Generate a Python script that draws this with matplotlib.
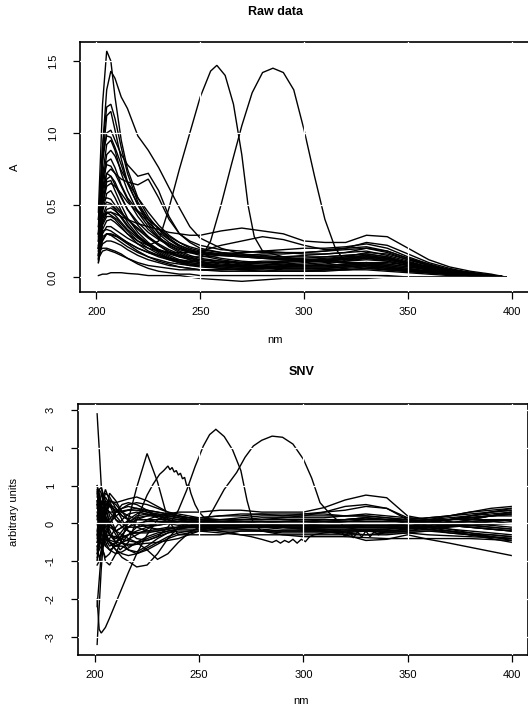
import numpy as np
import matplotlib.pyplot as plt

## UV spectra: raw absorbance and SNV transformed ##############################

rawWl = [201, 203, 205, 207, 209, 212, 215, 220, 225, 230, 235, 240, 245, 250,
         260, 270, 280, 290, 300, 310, 320, 330, 340, 350, 360, 370, 380, 390, 397]

rawSpectra = [
    [0.45, 1.2, 1.57, 1.50, 1.25, 0.95, 0.75, 0.55, 0.42, 0.33, 0.26, 0.21, 0.18, 0.16, 0.13, 0.11, 0.10, 0.09, 0.08, 0.08, 0.09, 0.10, 0.09, 0.07, 0.05, 0.03, 0.02, 0.01, 0.0],
    [0.35, 0.9, 1.3, 1.43, 1.38, 1.25, 1.17, 0.98, 0.88, 0.76, 0.62, 0.48, 0.35, 0.27, 0.2, 0.16, 0.14, 0.13, 0.12, 0.12, 0.13, 0.14, 0.12, 0.09, 0.06, 0.04, 0.02, 0.01, 0.0],
    [0.3, 0.9, 1.18, 1.2, 1.1, 0.9, 0.72, 0.52, 0.4, 0.3, 0.24, 0.2, 0.17, 0.15, 0.12, 0.10, 0.09, 0.08, 0.08, 0.08, 0.09, 0.1, 0.08, 0.06, 0.04, 0.03, 0.02, 0.01, 0.0],
    [0.25, 0.8, 1.12, 1.15, 1.02, 0.82, 0.66, 0.5, 0.37, 0.28, 0.22, 0.18, 0.15, 0.13, 0.11, 0.09, 0.08, 0.07, 0.07, 0.07, 0.08, 0.09, 0.07, 0.05, 0.04, 0.03, 0.02, 0.01, 0.0],
    [0.3, 0.8, 1.0, 1.02, 0.95, 0.85, 0.78, 0.7, 0.72, 0.6, 0.42, 0.3, 0.24, 0.2, 0.17, 0.15, 0.13, 0.12, 0.11, 0.11, 0.12, 0.13, 0.11, 0.08, 0.05, 0.03, 0.02, 0.01, 0.0],
    [0.2, 0.7, 0.92, 0.95, 0.88, 0.72, 0.6, 0.45, 0.35, 0.27, 0.21, 0.17, 0.14, 0.12, 0.1, 0.08, 0.07, 0.06, 0.06, 0.06, 0.07, 0.08, 0.07, 0.05, 0.04, 0.02, 0.01, 0.01, 0.0],
    [0.25, 0.65, 0.85, 0.88, 0.84, 0.74, 0.66, 0.55, 0.45, 0.36, 0.29, 0.24, 0.2, 0.18, 0.16, 0.15, 0.14, 0.14, 0.15, 0.16, 0.17, 0.18, 0.15, 0.11, 0.07, 0.04, 0.02, 0.01, 0.0],
    [0.18, 0.6, 0.8, 0.82, 0.76, 0.64, 0.55, 0.46, 0.4, 0.34, 0.27, 0.22, 0.19, 0.17, 0.15, 0.14, 0.13, 0.12, 0.12, 0.13, 0.14, 0.15, 0.13, 0.1, 0.07, 0.04, 0.02, 0.01, 0.0],
    [0.2, 0.55, 0.72, 0.75, 0.72, 0.68, 0.66, 0.64, 0.68, 0.55, 0.4, 0.3, 0.25, 0.22, 0.19, 0.18, 0.17, 0.17, 0.17, 0.18, 0.2, 0.21, 0.18, 0.13, 0.08, 0.05, 0.03, 0.01, 0.0],
    [0.15, 0.5, 0.68, 0.7, 0.66, 0.56, 0.47, 0.36, 0.28, 0.22, 0.17, 0.14, 0.12, 0.1, 0.08, 0.07, 0.06, 0.06, 0.06, 0.06, 0.07, 0.08, 0.06, 0.05, 0.03, 0.02, 0.01, 0.01, 0.0],
    [0.2, 0.5, 0.63, 0.65, 0.63, 0.58, 0.52, 0.45, 0.38, 0.31, 0.26, 0.22, 0.19, 0.17, 0.15, 0.14, 0.13, 0.13, 0.13, 0.14, 0.15, 0.16, 0.14, 0.1, 0.06, 0.04, 0.02, 0.01, 0.0],
    [0.12, 0.45, 0.58, 0.6, 0.55, 0.46, 0.38, 0.29, 0.23, 0.18, 0.14, 0.11, 0.09, 0.08, 0.06, 0.05, 0.05, 0.04, 0.04, 0.05, 0.05, 0.06, 0.05, 0.04, 0.03, 0.02, 0.01, 0.0, 0.0],
    [0.3, 0.48, 0.52, 0.51, 0.48, 0.44, 0.4, 0.34, 0.28, 0.23, 0.19, 0.16, 0.13, 0.11, 0.09, 0.08, 0.07, 0.07, 0.07, 0.07, 0.08, 0.09, 0.08, 0.06, 0.04, 0.03, 0.02, 0.01, 0.0],
    [0.15, 0.4, 0.47, 0.48, 0.46, 0.42, 0.36, 0.28, 0.22, 0.17, 0.13, 0.1, 0.08, 0.07, 0.06, 0.05, 0.04, 0.04, 0.04, 0.04, 0.05, 0.05, 0.04, 0.03, 0.02, 0.01, 0.01, 0.0, 0.0],
    [0.2, 0.38, 0.44, 0.45, 0.44, 0.42, 0.4, 0.37, 0.35, 0.33, 0.31, 0.3, 0.29, 0.29, 0.32, 0.34, 0.32, 0.3, 0.25, 0.24, 0.24, 0.29, 0.28, 0.2, 0.12, 0.07, 0.04, 0.02, 0.0],
    [0.12, 0.33, 0.39, 0.4, 0.38, 0.34, 0.3, 0.25, 0.2, 0.16, 0.13, 0.11, 0.1, 0.09, 0.08, 0.08, 0.08, 0.09, 0.1, 0.11, 0.13, 0.15, 0.13, 0.09, 0.06, 0.04, 0.02, 0.01, 0.0],
    [0.1, 0.3, 0.35, 0.35, 0.33, 0.3, 0.27, 0.23, 0.2, 0.18, 0.17, 0.17, 0.17, 0.18, 0.22, 0.25, 0.28, 0.26, 0.22, 0.19, 0.2, 0.24, 0.22, 0.16, 0.1, 0.06, 0.03, 0.01, 0.0],
    [0.1, 0.26, 0.3, 0.3, 0.29, 0.26, 0.23, 0.18, 0.14, 0.11, 0.09, 0.07, 0.06, 0.05, 0.04, 0.04, 0.04, 0.04, 0.04, 0.05, 0.05, 0.06, 0.05, 0.04, 0.03, 0.02, 0.01, 0.0, 0.0],
    [0.15, 0.23, 0.25, 0.25, 0.24, 0.22, 0.19, 0.15, 0.12, 0.1, 0.08, 0.07, 0.06, 0.05, 0.05, 0.05, 0.06, 0.07, 0.08, 0.09, 0.11, 0.13, 0.12, 0.09, 0.06, 0.04, 0.02, 0.01, 0.0],
    [0.18, 0.2, 0.2, 0.19, 0.18, 0.16, 0.13, 0.09, 0.06, 0.04, 0.03, 0.02, 0.02, 0.01, 0.01, 0.01, 0.01, 0.01, 0.01, 0.01, 0.01, 0.01, 0.01, 0.0, 0.0, 0.0, 0.0, 0.0, 0.0],
    [0.01, 0.02, 0.02, 0.03, 0.03, 0.03, 0.025, 0.02, 0.01, 0.01, 0.01, 0.01, 0.0, -0.01, -0.02, -0.03, -0.02, -0.01, -0.01, -0.01, -0.01, -0.01, 0.0, 0.0, 0.0, 0.0, 0.0, 0.0, 0.0],
    [0.3, 0.42, 0.45, 0.45, 0.43, 0.38, 0.33, 0.27, 0.22, 0.19, 0.17, 0.15, 0.14, 0.14, 0.15, 0.17, 0.18, 0.17, 0.16, 0.16, 0.17, 0.2, 0.18, 0.13, 0.09, 0.05, 0.03, 0.01, 0.0],
    [0.4, 0.85, 0.98, 0.97, 0.9, 0.78, 0.65, 0.5, 0.4, 0.34, 0.28, 0.24, 0.21, 0.19, 0.17, 0.16, 0.15, 0.14, 0.14, 0.14, 0.15, 0.16, 0.14, 0.1, 0.07, 0.04, 0.02, 0.01, 0.0],
    [0.35, 0.52, 0.55, 0.54, 0.5, 0.45, 0.4, 0.33, 0.27, 0.22, 0.18, 0.15, 0.12, 0.1, 0.08, 0.07, 0.06, 0.06, 0.06, 0.06, 0.07, 0.08, 0.07, 0.05, 0.04, 0.02, 0.01, 0.01, 0.0],
    [0.25, 0.32, 0.33, 0.32, 0.3, 0.27, 0.24, 0.2, 0.17, 0.15, 0.13, 0.12, 0.11, 0.1, 0.1, 0.1, 0.11, 0.11, 0.12, 0.12, 0.14, 0.17, 0.16, 0.12, 0.08, 0.05, 0.03, 0.01, 0.0],
    [0.13, 0.18, 0.19, 0.18, 0.17, 0.15, 0.13, 0.1, 0.08, 0.07, 0.06, 0.05, 0.05, 0.05, 0.05, 0.06, 0.07, 0.08, 0.09, 0.1, 0.11, 0.12, 0.11, 0.08, 0.05, 0.03, 0.02, 0.01, 0.0],
    [0.28, 0.6, 0.72, 0.7, 0.64, 0.55, 0.47, 0.38, 0.31, 0.26, 0.22, 0.19, 0.17, 0.16, 0.15, 0.15, 0.16, 0.16, 0.17, 0.18, 0.19, 0.2, 0.17, 0.12, 0.08, 0.05, 0.03, 0.01, 0.0],
    [0.22, 0.42, 0.5, 0.5, 0.47, 0.41, 0.35, 0.28, 0.23, 0.19, 0.16, 0.14, 0.13, 0.12, 0.11, 0.1, 0.1, 0.1, 0.11, 0.12, 0.13, 0.14, 0.13, 0.1, 0.06, 0.04, 0.02, 0.01, 0.0],
    [0.16, 0.36, 0.42, 0.42, 0.4, 0.35, 0.3, 0.23, 0.18, 0.15, 0.12, 0.1, 0.09, 0.08, 0.07, 0.07, 0.07, 0.07, 0.08, 0.08, 0.09, 0.1, 0.09, 0.07, 0.05, 0.03, 0.02, 0.01, 0.0],
    [0.4, 0.7, 0.78, 0.77, 0.72, 0.63, 0.54, 0.42, 0.33, 0.27, 0.23, 0.2, 0.18, 0.17, 0.16, 0.17, 0.18, 0.19, 0.2, 0.2, 0.21, 0.23, 0.2, 0.14, 0.09, 0.05, 0.03, 0.01, 0.0],
    [0.2, 0.28, 0.3, 0.29, 0.27, 0.24, 0.21, 0.17, 0.14, 0.12, 0.1, 0.09, 0.08, 0.08, 0.08, 0.09, 0.1, 0.11, 0.11, 0.12, 0.12, 0.14, 0.13, 0.1, 0.07, 0.04, 0.02, 0.01, 0.0],
    [0.14, 0.5, 0.66, 0.67, 0.6, 0.5, 0.41, 0.31, 0.24, 0.19, 0.15, 0.12, 0.1, 0.09, 0.07, 0.06, 0.06, 0.05, 0.05, 0.05, 0.06, 0.07, 0.06, 0.04, 0.03, 0.02, 0.01, 0.0, 0.0],
]

# the two samples with big peaks at 258 and 285 nm
peak258Wl = [201, 205, 210, 215, 220, 225, 230, 235, 240, 245, 250, 255, 258,
             262, 266, 270, 273, 276, 280, 290, 300, 320, 340, 360, 380, 397]
peak258A = [0.3, 0.45, 0.4, 0.32, 0.25, 0.22, 0.25, 0.48, 0.75, 1.0, 1.25, 1.43, 1.47,
            1.4, 1.2, 0.85, 0.5, 0.28, 0.18, 0.14, 0.12, 0.1, 0.1, 0.06, 0.02, 0.0]
peak285Wl = [201, 205, 210, 220, 230, 240, 250, 255, 260, 265, 270, 275, 280,
             285, 290, 295, 300, 305, 310, 315, 320, 330, 340, 360, 380, 397]
peak285A = [0.2, 0.3, 0.28, 0.2, 0.14, 0.1, 0.12, 0.25, 0.5, 0.78, 1.05, 1.28, 1.42,
            1.45, 1.42, 1.3, 1.02, 0.7, 0.4, 0.2, 0.1, 0.07, 0.05, 0.03, 0.01, 0.0]

snvWl = [201, 202, 203, 205, 207, 210, 213, 216, 220, 225, 230, 235, 240, 245, 250,
         260, 270, 280, 290, 300, 310, 320, 330, 340, 350, 360, 370, 380, 390, 400]

snvSpectra = [
    [2.9, 2.0, 1.0, 0.2, -0.3, -0.5, -0.4, -0.3, -0.2, -0.1, -0.05, 0.0, 0.05, 0.05, 0.0, 0.0, -0.05, -0.05, -0.1, -0.1, -0.1, -0.1, -0.1, -0.1, -0.1, -0.05, 0.0, 0.05, 0.1, 0.1],
    [-3.2, -2.2, -1.2, 0.2, 0.6, 0.5, 0.3, 0.2, 0.1, 0.1, 0.05, 0.05, 0.0, 0.0, -0.05, -0.1, -0.1, -0.1, -0.1, -0.1, -0.1, -0.1, -0.1, -0.1, -0.1, 0.0, 0.1, 0.2, 0.3, 0.4],
    [-2.0, -2.8, -2.9, -2.75, -2.5, -2.1, -1.7, -1.3, -0.8, -0.3, 0.1, 0.2, 0.15, 0.1, 0.05, 0.0, 0.0, -0.05, -0.05, -0.05, -0.05, -0.05, -0.05, -0.05, 0.0, 0.05, 0.1, 0.15, 0.2, 0.25],
    [0.5, 0.0, -0.5, -1.0, -1.1, -0.8, -0.4, 0.1, 0.95, 1.85, 1.1, 0.1, -0.3, -0.3, -0.3, -0.3, -0.2, -0.2, -0.2, -0.2, -0.2, -0.2, -0.2, -0.2, -0.2, -0.2, -0.25, -0.3, -0.3, -0.35],
    [0.8, 0.5, 0.2, -0.3, -0.5, -0.6, -0.5, -0.3, -0.1, 0.1, 0.2, 0.25, 0.3, 0.3, 0.3, 0.35, 0.35, 0.3, 0.3, 0.3, 0.42, 0.62, 0.75, 0.68, 0.2, 0.1, 0.1, 0.15, 0.2, 0.2],
    [-0.4, 0.0, 0.4, 0.8, 0.7, 0.4, 0.2, 0.1, 0.0, -0.05, -0.05, 0.0, 0.05, 0.1, 0.15, 0.2, 0.25, 0.25, 0.2, 0.2, 0.3, 0.45, 0.5, 0.4, 0.1, 0.0, -0.05, -0.1, -0.15, -0.2],
    [1.0, 0.8, 0.5, 0.2, 0.0, -0.2, -0.1, 0.0, 0.1, 0.1, 0.1, 0.1, 0.05, 0.05, 0.0, 0.0, 0.0, -0.05, -0.1, -0.15, -0.2, -0.3, -0.45, -0.42, -0.3, -0.42, -0.52, -0.63, -0.74, -0.85],
    [0.5, 0.3, 0.0, -0.3, -0.5, -0.7, -0.9, -1.0, -1.15, -1.1, -0.8, -0.4, -0.1, 0.0, 0.05, 0.05, 0.05, 0.0, 0.0, 0.0, 0.0, 0.0, 0.0, 0.0, 0.0, 0.05, 0.1, 0.15, 0.2, 0.25],
    [-0.3, 0.3, 0.8, 0.5, 0.0, -0.2, -0.3, -0.4, -0.5, -0.7, -0.95, -0.8, -0.5, -0.25, -0.1, -0.05, 0.0, 0.0, 0.05, 0.05, 0.05, 0.0, -0.05, -0.05, 0.0, 0.0, -0.05, -0.1, -0.15, -0.2],
    [0.9, 0.6, 0.3, -0.2, -0.5, -0.7, -0.8, -0.85, -0.8, -0.65, -0.5, -0.35, -0.25, -0.2, -0.15, -0.1, -0.1, -0.1, -0.1, -0.1, -0.1, -0.05, -0.05, -0.05, 0.0, 0.1, 0.2, 0.3, 0.4, 0.45],
    [-1.0, -0.5, 0.0, 0.5, 0.6, 0.55, 0.6, 0.65, 0.7, 0.6, 0.45, 0.3, 0.2, 0.1, 0.05, 0.0, -0.05, -0.1, -0.1, -0.15, -0.15, -0.15, -0.15, -0.15, -0.1, -0.05, 0.0, 0.1, 0.2, 0.3],
    [0.5, 0.9, 0.95, 0.6, 0.2, -0.2, -0.5, -0.7, -0.75, -0.6, -0.4, -0.25, -0.15, -0.1, -0.05, 0.0, 0.0, 0.0, 0.05, 0.05, 0.05, 0.05, 0.05, 0.05, 0.05, 0.05, 0.1, 0.15, 0.2, 0.25],
    [-0.5, -0.2, 0.2, 0.6, 0.5, 0.3, 0.4, 0.5, 0.55, 0.5, 0.4, 0.3, 0.25, 0.2, 0.15, 0.1, 0.1, 0.1, 0.1, 0.1, 0.1, 0.1, 0.1, 0.1, 0.05, -0.05, -0.15, -0.25, -0.35, -0.45],
    [-1.1, -1.0, -0.7, -0.3, 0.0, 0.2, 0.3, 0.35, 0.35, 0.3, 0.25, 0.2, 0.2, 0.15, 0.1, 0.05, 0.0, -0.05, -0.05, -0.05, -0.05, -0.05, -0.05, -0.05, -0.05, -0.1, -0.2, -0.3, -0.4, -0.5],
    [0.2, 0.4, 0.6, 0.4, 0.0, -0.3, -0.5, -0.6, -0.55, -0.4, -0.3, -0.2, -0.15, -0.15, -0.15, -0.2, -0.2, -0.2, -0.25, -0.25, -0.25, -0.25, -0.2, -0.2, -0.2, -0.15, -0.1, -0.05, 0.0, 0.05],
    [1.0, 0.7, 0.4, 0.0, -0.3, -0.4, -0.2, 0.0, 0.2, 0.25, 0.2, 0.15, 0.1, 0.05, 0.0, -0.05, -0.05, 0.0, 0.0, 0.0, 0.05, 0.1, 0.15, 0.1, 0.0, 0.05, 0.1, 0.2, 0.3, 0.35],
    [-0.3, -0.5, -0.3, 0.3, 0.5, 0.4, 0.1, -0.2, -0.4, -0.45, -0.35, -0.25, -0.2, -0.2, -0.2, -0.25, -0.3, -0.3, -0.3, -0.3, -0.3, -0.3, -0.3, -0.3, -0.25, -0.2, -0.2, -0.25, -0.3, -0.35],
    [0.7, 0.9, 0.8, 0.4, 0.3, 0.3, 0.4, 0.45, 0.4, 0.35, 0.3, 0.25, 0.2, 0.15, 0.15, 0.2, 0.2, 0.25, 0.25, 0.25, 0.25, 0.2, 0.2, 0.15, 0.1, 0.05, 0.0, -0.05, -0.1, -0.15],
    [-0.8, -0.3, 0.5, 0.9, 0.6, 0.2, 0.0, -0.1, -0.1, -0.05, 0.0, 0.0, 0.0, 0.0, -0.05, -0.1, -0.1, -0.1, -0.15, -0.15, -0.15, -0.15, -0.15, -0.15, -0.1, -0.1, -0.05, 0.0, 0.05, 0.1],
    [0.3, 0.1, -0.2, -0.6, -0.7, -0.6, -0.6, -0.7, -0.8, -0.7, -0.55, -0.4, -0.3, -0.25, -0.2, -0.15, -0.1, -0.05, 0.0, 0.0, 0.0, 0.05, 0.1, 0.1, 0.1, 0.15, 0.2, 0.3, 0.35, 0.4],
    [-0.2, 0.2, 0.5, 0.7, 0.5, 0.1, -0.1, -0.2, -0.25, -0.25, -0.2, -0.15, -0.1, -0.05, 0.0, 0.05, 0.1, 0.15, 0.15, 0.2, 0.2, 0.2, 0.25, 0.2, 0.15, 0.1, 0.05, 0.0, -0.05, -0.1],
    [0.6, 0.3, 0.0, -0.4, -0.6, -0.5, -0.3, -0.1, 0.1, 0.2, 0.25, 0.2, 0.15, 0.1, 0.05, 0.0, 0.0, 0.0, -0.05, -0.05, -0.1, -0.1, -0.1, -0.1, -0.1, -0.15, -0.2, -0.3, -0.35, -0.4],
    [-0.6, -0.9, -0.8, -0.4, 0.0, 0.3, 0.5, 0.55, 0.5, 0.35, 0.2, 0.1, 0.05, 0.05, 0.05, 0.1, 0.15, 0.2, 0.2, 0.25, 0.3, 0.35, 0.45, 0.4, 0.15, 0.1, 0.1, 0.1, 0.1, 0.1],
    [0.0, -0.3, -0.6, -0.9, -0.8, -0.5, -0.3, -0.1, 0.0, 0.05, 0.05, 0.0, -0.05, -0.1, -0.1, -0.15, -0.15, -0.2, -0.2, -0.2, -0.2, -0.25, -0.3, -0.25, -0.2, -0.1, 0.0, 0.1, 0.2, 0.3],
    [-2.2, -1.5, -0.8, 0.2, 0.8, 0.6, 0.3, 0.1, -0.1, -0.2, -0.2, -0.15, -0.1, -0.1, -0.1, -0.1, -0.1, -0.05, -0.05, -0.05, 0.0, 0.0, 0.0, 0.0, 0.0, 0.0, -0.05, -0.1, -0.15, -0.2],
    [0.4, 0.6, 0.3, -0.1, -0.3, -0.4, -0.35, -0.3, -0.25, -0.2, -0.15, -0.1, -0.1, -0.1, -0.1, -0.1, -0.15, -0.15, -0.2, -0.2, -0.2, -0.2, -0.2, -0.2, -0.15, -0.1, -0.05, 0.0, 0.05, 0.1],
    [-0.7, -0.4, 0.0, 0.4, 0.3, 0.1, 0.0, 0.05, 0.15, 0.2, 0.2, 0.15, 0.1, 0.1, 0.1, 0.05, 0.05, 0.05, 0.05, 0.05, 0.1, 0.1, 0.15, 0.1, 0.05, 0.1, 0.15, 0.2, 0.25, 0.3],
    [0.2, -0.1, -0.4, -0.6, -0.4, -0.1, 0.1, 0.25, 0.3, 0.25, 0.15, 0.05, 0.0, -0.05, -0.05, -0.05, -0.05, -0.05, -0.1, -0.1, -0.1, -0.1, -0.05, -0.05, -0.05, -0.1, -0.15, -0.2, -0.25, -0.3],
    [0.85, 0.4, 0.0, -0.5, -0.7, -0.8, -0.75, -0.65, -0.5, -0.35, -0.25, -0.2, -0.15, -0.1, -0.05, 0.0, 0.05, 0.05, 0.05, 0.1, 0.1, 0.1, 0.15, 0.1, 0.1, 0.15, 0.2, 0.25, 0.3, 0.35],
    [-0.9, -0.6, -0.2, 0.3, 0.45, 0.35, 0.2, 0.1, 0.0, -0.1, -0.15, -0.15, -0.1, -0.1, -0.05, -0.05, -0.05, -0.05, -0.05, -0.05, -0.05, -0.05, -0.1, -0.1, -0.1, -0.15, -0.25, -0.3, -0.35, -0.4],
    [0.1, 0.3, 0.5, 0.2, -0.1, -0.2, -0.1, 0.1, 0.25, 0.35, 0.3, 0.25, 0.2, 0.15, 0.1, 0.1, 0.1, 0.1, 0.15, 0.15, 0.15, 0.2, 0.2, 0.15, 0.1, 0.05, 0.0, -0.05, -0.1, -0.15],
]

# SNV curves read on their own wavelength points (sharp or noisy parts)
snvJaggedWl = [201, 203, 205, 208, 212, 216, 220, 225, 228, 231, 233, 235, 236, 237, 238, 239, 240,
               241, 242, 243, 244, 245, 246, 248, 250, 255, 260, 280, 300, 320, 340, 360, 380, 400]
snvJagged = [-1.0, -0.2, 0.1, -0.3, -0.7, -0.5, 0.1, 0.75, 1.05, 1.3, 1.4, 1.52, 1.42, 1.48, 1.36, 1.4, 1.28,
             1.33, 1.18, 1.22, 1.0, 1.02, 0.8, 0.5, 0.3, 0.0, -0.1, -0.1, -0.1, -0.1, -0.1, 0.0, 0.05, 0.1]
snvPeak258Wl = [201, 205, 210, 215, 220, 225, 230, 235, 240, 244, 248, 252, 255, 258,
                262, 266, 270, 273, 276, 280, 290, 300, 320, 340, 360, 380, 400]
snvPeak258 = [-0.6, -0.3, -0.35, -0.45, -0.5, -0.45, -0.35, -0.1, 0.35, 0.88, 1.5, 2.05, 2.35, 2.49,
              2.3, 1.95, 1.4, 0.6, 0.0, -0.2, -0.3, -0.35, -0.35, -0.4, -0.4, -0.4, -0.45]
snvPeak287Wl = [201, 205, 210, 215, 220, 230, 240, 250, 256, 262, 268, 272, 276, 280, 285,
                290, 295, 300, 304, 308, 312, 316, 320, 330, 340, 350, 360, 380, 400]
snvPeak287 = [-0.8, -0.4, -0.5, -0.55, -0.55, -0.5, -0.4, -0.2, 0.3, 0.9, 1.35, 1.75, 2.05, 2.2, 2.31,
              2.28, 2.1, 1.7, 1.2, 0.55, 0.3, 0.1, -0.1, -0.2, -0.25, -0.25, -0.3, -0.35, -0.4]
snvDipWl = [201, 205, 210, 220, 230, 240, 250, 260, 270, 275, 280, 285, 287, 289,
            291, 293, 295, 297, 299, 301, 303, 305, 310, 320, 340, 360, 380, 400]
snvDip = [-0.5, 0.0, 0.3, 0.4, 0.2, 0.0, -0.1, -0.2, -0.3, -0.35, -0.42, -0.5, -0.45, -0.52,
          -0.45, -0.5, -0.42, -0.52, -0.42, -0.48, -0.35, -0.3, -0.25, -0.2, -0.15, -0.1, -0.05, 0.0]
snvNoiseWl = [201, 205, 210, 220, 230, 240, 250, 270, 290, 310, 318, 320,
              322, 324, 326, 328, 330, 332, 334, 336, 340, 350, 370, 400]
snvNoise = [0.6, -0.4, -0.6, -0.3, 0.0, 0.05, 0.0, -0.05, -0.1, -0.15, -0.2, -0.35,
            -0.2, -0.38, -0.22, -0.36, -0.2, -0.35, -0.22, -0.3, -0.2, -0.15, -0.05, 0.1]

xTicks = [200, 250, 300, 350, 400]
rawYTicks = [0.0, 0.5, 1.0, 1.5]
rawYTickLabels = ["0.0", "0.5", "1.0", "1.5"]
snvYTicks = [-3, -2, -1, 0, 1, 2, 3]
snvYTickLabels = ["-3", "-2", "-1", "0", "1", "2", "3"]

W, H = 528, 705
plt.rcParams['font.family'] = ['Liberation Sans', 'DejaVu Sans']


def figX(px):
	return px / W


def figY(py):
	return 1 - py / H


def drawPanel(fig, left, top, right, bottom, xlim, ylim, curves, yTicks, yTickLabels):
	ax = fig.add_axes([figX(left), figY(bottom), figX(right - left), (bottom - top) / H])
	for wl, vals in curves:
		ax.plot(wl, vals, color='black', linewidth=1.0, solid_joinstyle='miter')
	# white grid drawn over the spectra, like abline(col="white") in R
	for t in xTicks:
		ax.axvline(t, color='white', linewidth=0.9, zorder=3)
	for t in yTicks:
		ax.axhline(t, color='white', linewidth=0.9, zorder=3)
	ax.set_xlim(xlim)
	ax.set_ylim(ylim)
	ax.set_xticks(xTicks)
	ax.set_xticklabels([str(t) for t in xTicks], fontsize=8)
	ax.set_yticks(yTicks)
	ax.set_yticklabels(yTickLabels, fontsize=8, rotation=90, va='center')
	ax.tick_params(axis='x', direction='out', length=5, width=0.9, pad=6)
	ax.tick_params(axis='y', direction='out', length=5, width=0.9, pad=11)
	for sp in ax.spines.values():
		sp.set_linewidth(1.2)
	return ax


fig = plt.figure(figsize=(W / 100, H / 100), dpi=100)

rawCurves = [(rawWl, s) for s in rawSpectra]
rawCurves.append((peak258Wl, peak258A))
rawCurves.append((peak285Wl, peak285A))
drawPanel(fig, 80, 42, 528.6, 292, (192.16, 408), (-0.104, 1.632), rawCurves, rawYTicks, rawYTickLabels)

snvCurves = [(snvWl, s) for s in snvSpectra]
snvCurves.append((snvJaggedWl, snvJagged))
snvCurves.append((snvPeak258Wl, snvPeak258))
snvCurves.append((snvPeak287Wl, snvPeak287))
snvCurves.append((snvDipWl, snvDip))
snvCurves.append((snvNoiseWl, snvNoise))
drawPanel(fig, 78, 404, 528.4, 655, (191.84, 408), (-3.48, 3.16), snvCurves, snvYTicks, snvYTickLabels)

fig.text(figX(275), figY(12), "Raw data", ha='center', va='center', fontsize=9, fontweight='bold')
fig.text(figX(275), figY(340), "nm", ha='center', va='center', fontsize=8)
fig.text(figX(15), figY(167), "A", ha='center', va='center', fontsize=8, rotation=90)

fig.text(figX(302), figY(372), "SNV", ha='center', va='center', fontsize=9, fontweight='bold')
fig.text(figX(301), figY(701), "nm", ha='center', va='center', fontsize=8)
fig.text(figX(14), figY(512), "arbitrary units", ha='center', va='center', fontsize=8, rotation=90)

plt.savefig("out.png", dpi=100)
